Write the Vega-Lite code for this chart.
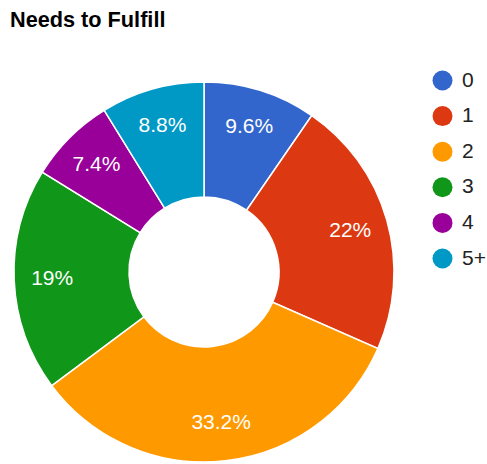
{
  "$schema": "https://vega.github.io/schema/vega-lite/v6.json",
  "autosize": {"type": "none"},
  "padding": {"left": 10, "top": 50, "right": 89, "bottom": 0},
  "width": 388,
  "height": 444,
  "background": "white",
  "title": {
    "text": "Needs to Fulfill",
    "anchor": "start",
    "frame": "group",
    "font": "Liberation Sans",
    "fontSize": 21.7,
    "fontWeight": "bold",
    "color": "#000000",
    "offset": 18
  },
  "data": {
    "values": [
      {"cat": "0", "value": 9.6, "label": "9.6%", "idx": 0},
      {"cat": "1", "value": 22, "label": "22%", "idx": 1},
      {"cat": "2", "value": 33.2, "label": "33.2%", "idx": 2},
      {"cat": "3", "value": 19, "label": "19%", "idx": 3},
      {"cat": "4", "value": 7.4, "label": "7.4%", "idx": 4},
      {"cat": "5+", "value": 8.8, "label": "8.8%", "idx": 5}
    ]
  },
  "encoding": {
    "theta": {"field": "value", "type": "quantitative", "stack": true},
    "order": {"field": "idx", "type": "quantitative"}
  },
  "layer": [
    {
      "mark": {"type": "arc", "outerRadius": 190, "innerRadius": 75, "stroke": "white", "strokeWidth": 1.5},
      "encoding": {
        "color": {
          "field": "cat",
          "type": "nominal",
          "sort": ["0", "1", "2", "3", "4", "5+"],
          "scale": {
            "domain": ["0", "1", "2", "3", "4", "5+"],
            "range": ["#3366cc", "#dc3912", "#ff9900", "#109618", "#990099", "#0099c6"]
          },
          "legend": {
            "title": null,
            "orient": "none",
            "legendX": 422,
            "legendY": 20,
            "padding": 0,
            "symbolType": "circle",
            "symbolSize": 400,
            "symbolStrokeWidth": 0,
            "labelFont": "Liberation Sans",
            "labelFontSize": 21,
            "labelColor": "#222222",
            "labelOffset": 9,
            "rowPadding": 13.6
          }
        }
      }
    },
    {
      "mark": {"type": "text", "radius": 152, "font": "Liberation Sans", "fontSize": 21, "color": "white", "baseline": "middle", "align": "center"},
      "encoding": {
        "text": {"field": "label", "type": "nominal"}
      }
    }
  ],
  "config": {"view": {"stroke": null}}
}
